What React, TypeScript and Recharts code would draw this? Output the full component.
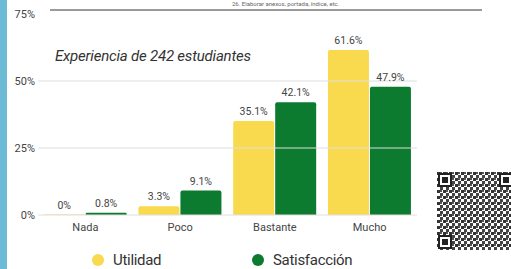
import {Bar, BarChart, LabelList, Legend, ReferenceLine, XAxis, YAxis} from "recharts";

const categories = ["Nada", "Poco", "Bastante", "Mucho"];
const utilidad = [0, 3.3, 35.1, 61.6];
const satisfaccion = [0.8, 9.1, 42.1, 47.9];
const yTicks = [0, 25, 50, 75];
const gridTicks = [0, 25, 50];

const YELLOW = "#F9D94E";
const GREEN = "#0C7B2F";
const FONT = "Roboto, 'Liberation Sans Narrow', sans-serif";

const data = categories.map((name, i) => ({name, utilidad: utilidad[i], satisfaccion: satisfaccion[i]}));

const fmt = (v: any) => (Number(v) === 0 ? "0%" : `${Number(v).toFixed(1)}%`);

function LegendBox() {
  const item = (color: string, label: string, w: number) => (
    <div style={{display: "flex", alignItems: "center", width: w}}>
      <span style={{width: 12, height: 12, borderRadius: 6, background: color, marginRight: 9, display: "inline-block"}}/>
      <span style={{fontSize: 15, color: "#333", fontFamily: FONT, letterSpacing: -0.3}}>{label}</span>
    </div>
  );
  return (
    <div style={{height: 34, display: "flex", paddingLeft: 84, paddingTop: 15, boxSizing: "border-box"}}>
      {item(YELLOW, "Utilidad", 160)}
      {item(GREEN, "Satisfacción", 140)}
    </div>
  );
}

function QrBox() {
  const finder = (x: number, y: number) => (
    <g key={`${x}-${y}`}>
      <rect x={x} y={y} width={14} height={14} fill="#222"/>
      <rect x={x + 2} y={y + 2} width={10} height={10} fill="#fff"/>
      <rect x={x + 4} y={y + 4} width={6} height={6} fill="#222"/>
    </g>
  );
  return (
    <svg width={76} height={78} style={{position: "absolute", left: 437, top: 172}}>
      <defs>
        <pattern id="qr" width="6" height="6" patternUnits="userSpaceOnUse">
          <rect width="6" height="6" fill="#fff"/>
          <rect x="0" y="0" width="3" height="3" fill="#333"/>
          <rect x="3" y="3" width="3" height="3" fill="#444"/>
          <rect x="3" y="0" width="2" height="2" fill="#555"/>
        </pattern>
      </defs>
      <rect width={76} height={78} fill="url(#qr)"/>
      {finder(1, 1)}
      {finder(1, 63)}
      {finder(62, 1)}
    </svg>
  );
}

export default function App() {
  return (
    <div style={{position: "fixed", left: 0, top: 0, width: 511, height: 269, background: "#fff", overflow: "hidden", fontFamily: FONT}}>
      <div style={{position: "absolute", left: 0, top: 0, width: 7, height: 269, background: "#6DBAD6"}}/>
      <div style={{position: "absolute", left: 50, top: 9, width: 432, height: 2, background: "#9a9a9a"}}/>
      <div style={{position: "absolute", left: 232, top: 0, fontSize: 6, lineHeight: "7px", color: "#666", whiteSpace: "nowrap"}}>
        26. Elaborar anexos, portada, índice, etc.
      </div>
      <div style={{position: "absolute", left: 55, top: 47, fontSize: 15, fontStyle: "italic", color: "#333", whiteSpace: "nowrap", letterSpacing: -0.2}}>
        Experiencia de 242 estudiantes
      </div>
      <BarChart width={511} height={269} data={data} margin={{top: 14, right: 94, bottom: 0, left: 8}}
                barCategoryGap="6%" barGap={1} style={{position: "absolute", left: 0, top: 0}}>
        {gridTicks.map((t) => (
          <ReferenceLine key={t} y={t} stroke="#dedede" strokeWidth={1} ifOverflow="extendDomain"/>
        ))}
        <XAxis dataKey="name" height={20} axisLine={false} tickLine={false} tickSize={0} tickMargin={8}
               tick={{fontSize: 11, fill: "#444", fontFamily: FONT}}/>
        <YAxis width={30} domain={[0, 75]} ticks={yTicks} axisLine={false} tickLine={false} tickSize={0} tickMargin={3}
               tickFormatter={(v) => `${v}%`} tick={{fontSize: 11, fill: "#444", fontFamily: FONT}}/>
        <Legend verticalAlign="bottom" content={() => <LegendBox/>}/>
        <Bar dataKey="utilidad" name="Utilidad" fill={YELLOW} radius={[2, 2, 0, 0]} minPointSize={0.5} isAnimationActive={false}>
          <LabelList dataKey="utilidad" position="top" offset={6} formatter={fmt}
                     style={{fontSize: 10.5, fill: "#444", fontFamily: FONT}}/>
        </Bar>
        <Bar dataKey="satisfaccion" name="Satisfacción" fill={GREEN} radius={[2, 2, 0, 0]} isAnimationActive={false}>
          <LabelList dataKey="satisfaccion" position="top" offset={6} formatter={fmt}
                     style={{fontSize: 10.5, fill: "#444", fontFamily: FONT}}/>
        </Bar>
      </BarChart>
      <QrBox/>
    </div>
  );
}
